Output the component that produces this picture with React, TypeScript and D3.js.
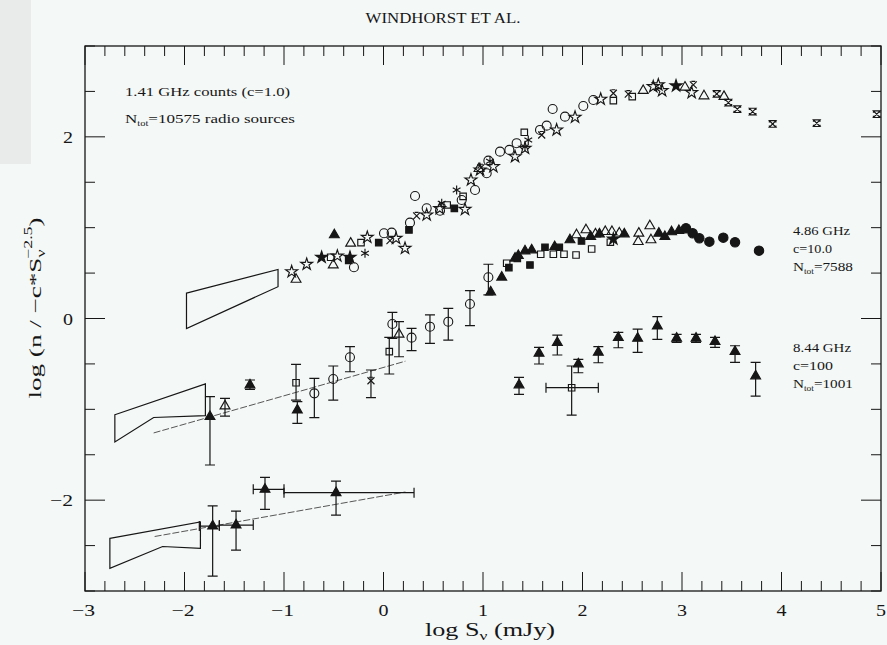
import React from "react";
import * as d3 from "d3";

// ---- 1.41 GHz source counts (log S, log normalised counts) ----
const ghz141OpenCircles = [
  [-0.297, 0.564], [0.005, 0.938], [0.082, 0.945], [0.266, 1.055], [0.317, 1.349],
  [0.434, 1.213], [0.568, 1.187], [0.786, 1.305], [0.92, 1.415], [1.037, 1.599],
  [1.054, 1.738], [1.171, 1.837], [1.265, 1.856], [1.338, 1.93], [1.573, 2.076],
  [1.64, 2.123], [1.70, 2.307], [1.824, 2.222], [2.008, 2.34], [2.109, 2.406],
];
const ghz141OpenStars = [
  [-0.923, 0.515], [-0.772, 0.597], [-0.464, 0.688], [-0.163, 0.894], [0.126, 0.883],
  [0.216, 0.773], [0.434, 1.14], [0.565, 1.21], [0.819, 1.202], [0.879, 1.525],
  [0.97, 1.636], [1.104, 1.672], [1.322, 1.782], [1.422, 1.874], [1.74, 2.076],
  [1.925, 2.216], [2.183, 2.414], [2.711, 2.553], [2.762, 2.572], [2.8, 2.509],
  [3.097, 2.487],
];
const ghz141FilledStars = [[-0.622, 0.674], [-0.337, 0.674], [2.94, 2.561]];
const ghz141Asterisks = [
  [-0.186, 0.718], [0.585, 1.269], [0.735, 1.415], [1.07, 1.73], [1.422, 1.89],
  [1.455, 1.966],
];
const ghz141Crosses = [
  [0.065, 0.857], [0.333, 1.129], [0.98, 1.66], [1.59, 2.02], [2.31, 2.48],
  [2.46, 2.47], [3.114, 2.572],
];
const ghz141OpenTriangles = [
  [-0.879, 0.43], [-0.505, 0.589], [-0.33, 0.828], [0.96, 1.65], [2.61, 2.509],
  [3.03, 2.546], [3.221, 2.45], [3.422, 2.443],
];
const ghz141FilledTriangles = [[-0.494, 0.92]];
const ghz141OpenSquares = [
  [-0.531, 0.674], [-0.226, 0.835], [0.64, 1.25], [0.80, 1.345], [1.415, 2.05],
  [2.31, 2.399], [2.5, 2.443],
];
const ghz141FilledSquares = [[-0.35, 0.64], [-0.048, 0.835], [0.256, 0.975], [0.712, 1.213]];
const ghz141Hourglass = [
  [3.349, 2.473], [3.466, 2.377], [3.556, 2.304], [3.71, 2.278], [3.911, 2.142],
  [4.354, 2.15], [4.957, 2.249],
];
const ghz141Wedge = [[-1.98, 0.28], [-1.06, 0.54], [-1.06, 0.35], [-1.98, -0.11]];

// ---- 4.86 GHz counts: error-bar points are [x, y, yLow, yHigh] ----
const ghz486ErrCircles = [
  [-0.695, -0.824, -1.092, -0.659], [-0.505, -0.666, -0.898, -0.523],
  [-0.337, -0.427, -0.586, -0.31], [0.089, -0.061, -0.218, 0.068],
  [0.282, -0.211, -0.354, -0.108], [0.467, -0.09, -0.273, 0.039],
  [0.651, -0.035, -0.237, 0.112], [0.869, 0.16, -0.079, 0.306],
  [1.054, 0.454, 0.259, 0.597],
];
const ghz486ErrSquares = [[-0.879, -0.707, -0.898, -0.504], [0.058, -0.365, -0.611, -0.207]];
const ghz486ErrOpenTriangles = [[-1.593, -0.964, -1.074, -0.879], [0.156, -0.174, -0.421, -0.035]];
const ghz486ErrFilledTriangles = [
  [-1.744, -1.081, -1.613, -0.861], [-1.342, -0.732, -0.78, -0.677],
  [-0.866, -1.008, -1.154, -0.916],
];
const ghz486ErrCrosses = [[-0.126, -0.685, -0.872, -0.567]];
const ghz486FilledTriangles = [
  [1.077, 0.292], [1.188, 0.454], [1.322, 0.663], [1.355, 0.692], [1.422, 0.743],
  [1.489, 0.754], [1.72, 0.79], [1.874, 0.865], [2.082, 0.901], [2.17, 0.93],
  [2.42, 0.93], [2.767, 0.938], [2.828, 0.901], [2.895, 0.953], [2.969, 0.967],
];
const ghz486OpenSquares = [
  [1.238, 0.608], [1.58, 0.707], [1.707, 0.707], [1.814, 0.707], [1.935, 0.699],
  [2.092, 0.765], [2.28, 0.84],
];
const ghz486FilledSquares = [
  [1.26, 0.56], [1.345, 0.66], [1.472, 0.589], [1.623, 0.784], [1.767, 0.784], [1.99, 0.853],
];
const ghz486OpenTriangles = [
  [1.94, 0.92], [2.035, 0.975], [2.13, 0.93], [2.229, 0.956], [2.296, 0.956],
  [2.37, 0.94], [2.56, 0.846], [2.566, 0.938], [2.677, 1.019], [2.688, 0.865],
];
const ghz486FilledCircles = [
  [3.04, 0.993], [3.107, 0.938], [3.174, 0.883], [3.275, 0.846], [3.415, 0.89],
  [3.533, 0.839], [3.774, 0.747],
];
const ghz486FilledStars = [[2.31, 0.876]];
const ghz486Wedge = [[-2.70, -1.06], [-1.79, -0.72], [-1.79, -1.07], [-2.31, -1.09], [-2.70, -1.36]];
const ghz486Fit = [[-2.31, -1.26], [0.22, -0.47]];

// ---- 8.44 GHz counts ----
const ghz844ErrTriangles = [
  [1.362, -0.732, -0.835, -0.648], [1.563, -0.383, -0.501, -0.317],
  [1.747, -0.266, -0.402, -0.182], [1.958, -0.501, -0.597, -0.449],
  [2.159, -0.372, -0.487, -0.31], [2.36, -0.211, -0.322, -0.152],
  [2.554, -0.218, -0.372, -0.116], [2.752, -0.083, -0.229, 0.02],
  [2.946, -0.218, -0.262, -0.174], [3.141, -0.218, -0.262, -0.174],
  [3.332, -0.255, -0.317, -0.207], [3.533, -0.365, -0.482, -0.3],
  [3.74, -0.633, -0.854, -0.482],
];
// [x, y, yLow, yHigh, xLow, xHigh]
const ghz844ErrSquares = [[1.891, -0.762, -1.063, -0.523, 1.633, 2.159]];

// ---- deepest counts (bottom group) ----
const deepErrTriangles = [
  [-1.717, -2.285, -2.836, -2.062, -1.851, -1.65],
  [-1.482, -2.274, -2.549, -2.12, -1.65, -1.309],
  [-1.191, -1.881, -2.101, -1.749, -1.309, -1.0],
  [-0.477, -1.918, -2.164, -1.79, -1.0, 0.307],
];
const deepWedge = [[-2.75, -2.42], [-1.84, -2.24], [-1.84, -2.53], [-2.22, -2.51], [-2.75, -2.75]];
const deepFit = [[-2.30, -2.40], [0.22, -1.91]];

const xTickLabels = [-3, -2, -1, 0, 1, 2, 3, 4, 5];
const yTickLabels = [-2, 0, 2];

const INK = "#161616";
const BG = "#f4f8f6";

const x = d3.scaleLinear().domain([-3, 5]).range([85, 881]);
const y = d3.scaleLinear().domain([-3, 3]).range([591, 46]);

const sym = (type: any, size: number) => d3.symbol().type(type).size(size)() as string;
const PATHS: Record<string, string> = {
  triangle: sym(d3.symbolTriangle, 42),
  square: sym(d3.symbolSquare, 42),
  star: sym(d3.symbolStar, 44),
  asterisk: "M0,-4.5V4.5M-3.9,-2.25L3.9,2.25M-3.9,2.25L3.9,-2.25",
  cross: "M-3.5,-3.5L3.5,3.5M-3.5,3.5L3.5,-3.5M-2,-3.5H2",
  hourglass: "M-3.3,-3.3H3.3L-3.3,3.3H3.3ZM-3.3,-3.3V-1.5M3.3,-3.3V-1.5M-3.3,3.3V1.5M3.3,3.3V1.5",
};

function Marker({ kind, filled, cx, cy }: { kind: string; filled: boolean; cx: number; cy: number }) {
  const t = `translate(${cx},${cy})`;
  if (kind === "circle") {
    return <circle cx={cx} cy={cy} r={filled ? 4.7 : 4.5} fill={filled ? INK : "none"} stroke={INK} strokeWidth={1.1} />;
  }
  const lineOnly = kind === "asterisk" || kind === "cross" || kind === "hourglass";
  return (
    <path
      d={PATHS[kind]}
      transform={t}
      fill={lineOnly ? "none" : filled ? INK : "none"}
      stroke={INK}
      strokeWidth={1.15}
      strokeLinejoin="miter"
    />
  );
}

const scatterSets: [number[][], string, boolean][] = [
  [ghz141OpenCircles, "circle", false],
  [ghz141OpenStars, "star", false],
  [ghz141FilledStars, "star", true],
  [ghz141Asterisks, "asterisk", false],
  [ghz141Crosses, "cross", false],
  [ghz141OpenTriangles, "triangle", false],
  [ghz141FilledTriangles, "triangle", true],
  [ghz141OpenSquares, "square", false],
  [ghz141FilledSquares, "square", true],
  [ghz141Hourglass, "hourglass", false],
  [ghz486FilledTriangles, "triangle", true],
  [ghz486OpenSquares, "square", false],
  [ghz486FilledSquares, "square", true],
  [ghz486OpenTriangles, "triangle", false],
  [ghz486FilledCircles, "circle", true],
  [ghz486FilledStars, "star", true],
];

const errorSets: [number[][], string, boolean][] = [
  [ghz486ErrCircles, "circle", false],
  [ghz486ErrSquares, "square", false],
  [ghz486ErrOpenTriangles, "triangle", false],
  [ghz486ErrFilledTriangles, "triangle", true],
  [ghz486ErrCrosses, "cross", false],
  [ghz844ErrTriangles, "triangle", true],
  [ghz844ErrSquares, "square", false],
  [deepErrTriangles, "triangle", true],
];

const CAP = 5;

function ErrorPoint({ d, kind, filled }: { d: number[]; kind: string; filled: boolean }) {
  const [vx, vy, lo, hi, xl, xh] = d;
  const cx = x(vx);
  const cy = y(vy);
  const y0 = y(lo);
  const y1 = y(hi);
  let p = `M${cx},${y0}V${y1}M${cx - CAP},${y0}H${cx + CAP}M${cx - CAP},${y1}H${cx + CAP}`;
  if (xl !== undefined) {
    const x0 = x(xl);
    const x1 = x(xh);
    p += `M${x0},${cy}H${x1}M${x0},${cy - CAP}V${cy + CAP}M${x1},${cy - CAP}V${cy + CAP}`;
  }
  return (
    <g>
      <path d={p} fill="none" stroke={INK} strokeWidth={1.2} />
      <Marker kind={kind} filled={filled} cx={cx} cy={cy} />
    </g>
  );
}

const line = d3.line<number[]>().x((d) => x(d[0])).y((d) => y(d[1]));
const wedge = (pts: number[][]) => line(pts) + "Z";

// stretched text: glyphs are widened to fill the given run length
const fit = (len: number) => ({ textLength: len, lengthAdjust: "spacingAndGlyphs" as const });

function Ntot({ px, py, rest, len }: { px: number; py: number; rest: string; len: number }) {
  return (
    <text x={px} y={py} {...fit(len)}>
      N<tspan fontSize={8} dy={3}>tot</tspan>
      <tspan dy={-3}>{rest}</tspan>
    </text>
  );
}

const tickLen = (v: number) => (v < 0 ? 23 : 10);
const tickText = (v: number) => (v < 0 ? "\u2212" + Math.abs(v) : String(v));

export default function App() {
  const xTicks = d3.range(-3, 5.0001, 0.2).map((v) => +v.toFixed(2));
  const yTicks = d3.range(-3, 3.0001, 0.5);
  const [xl, xr] = x.range();
  const [yb, yt] = y.range();
  const serif = "'Liberation Serif', 'DejaVu Serif', serif";
  const isInt = (v: number) => Math.abs(v - Math.round(v)) < 1e-6;

  return (
    <div style={{ position: "absolute", left: 0, top: 0 }}>
      <svg width={887} height={645} style={{ display: "block", background: BG }} fontFamily={serif}>
        <rect x={0} y={0} width={887} height={645} fill={BG} />
        <rect x={0} y={0} width={31} height={164} fill="#e9ebea" />

        <text x={443} y={23} textAnchor="middle" fontSize={14.5} fill={INK} {...fit(155)}>
          WINDHORST ET AL.
        </text>

        {/* frame */}
        <rect x={xl} y={yt} width={xr - xl} height={yb - yt} fill="none" stroke={INK} strokeWidth={1.3} />

        {/* x ticks, bottom and top */}
        {xTicks.map((v) => {
          const len = isInt(v) ? 19 : 10;
          const px = x(v);
          return (
            <g key={"xt" + v}>
              <line x1={px} x2={px} y1={yb} y2={yb - len} stroke={INK} strokeWidth={1} />
              <line x1={px} x2={px} y1={yt} y2={yt + len} stroke={INK} strokeWidth={1} />
            </g>
          );
        })}
        {/* y ticks, left and right */}
        {yTicks.map((v) => {
          const len = isInt(v) && Math.round(v) % 2 === 0 ? 20 : 10;
          const py = y(v);
          return (
            <g key={"yt" + v}>
              <line x1={xl} x2={xl + len} y1={py} y2={py} stroke={INK} strokeWidth={1} />
              <line x1={xr} x2={xr - len} y1={py} y2={py} stroke={INK} strokeWidth={1} />
            </g>
          );
        })}

        {xTickLabels.map((v) => (
          <text key={"xl" + v} x={x(v) - (v < 0 ? 1.5 : 0)} y={615.5} textAnchor="middle" fontSize={17} fill={INK} {...fit(tickLen(v))}>
            {tickText(v)}
          </text>
        ))}
        {yTickLabels.map((v) => (
          <text key={"yl" + v} x={73} y={y(v) + 6} textAnchor="end" fontSize={17} fill={INK} {...fit(tickLen(v))}>
            {tickText(v)}
          </text>
        ))}

        <text x={490} y={636} textAnchor="middle" fontSize={18} fill={INK} {...fit(130)}>
          log S<tspan fontSize={12} dy={4}>ν</tspan>
          <tspan dy={-4}> (mJy)</tspan>
        </text>

        <text transform="translate(41,308) rotate(-90)" textAnchor="middle" fontSize={17.5} fill={INK} {...fit(181)}>
          log (n / {"\u2212"}c*S<tspan fontSize={11.5} dy={4}>ν</tspan>
          <tspan fontSize={11.5} dx={-6} dy={-13}>{"\u2212"}2.5</tspan>
          <tspan dy={9}>)</tspan>
        </text>

        {/* wedges and fitted slopes */}
        {[ghz141Wedge, ghz486Wedge, deepWedge].map((w, i) => (
          <path key={"w" + i} d={wedge(w)} fill="none" stroke={INK} strokeWidth={1.2} />
        ))}
        {[ghz486Fit, deepFit].map((f, i) => (
          <path key={"f" + i} d={line(f) as string} fill="none" stroke="#444" strokeWidth={0.9} strokeDasharray="7,2" />
        ))}

        {errorSets.map(([arr, kind, filled], i) =>
          arr.map((d, j) => <ErrorPoint key={`e${i}-${j}`} d={d} kind={kind} filled={filled} />)
        )}
        {scatterSets.map(([arr, kind, filled], i) =>
          arr.map((d, j) => <Marker key={`s${i}-${j}`} kind={kind} filled={filled} cx={x(d[0])} cy={y(d[1])} />)
        )}

        {/* annotations */}
        <g fontSize={13} fill={INK}>
          <text x={125} y={96} {...fit(165)}>1.41 GHz counts (c=1.0)</text>
          <Ntot px={125} py={123} rest="=10575 radio sources" len={170} />

          <text x={793} y={235} {...fit(57)}>4.86 GHz</text>
          <text x={793} y={253} {...fit(39)}>c=10.0</text>
          <Ntot px={793} py={271} rest="=7588" len={60} />

          <text x={793} y={352} {...fit(58)}>8.44 GHz</text>
          <text x={793} y={370} {...fit(40)}>c=100</text>
          <Ntot px={793} py={388} rest="=1001" len={60} />
        </g>
      </svg>
    </div>
  );
}
